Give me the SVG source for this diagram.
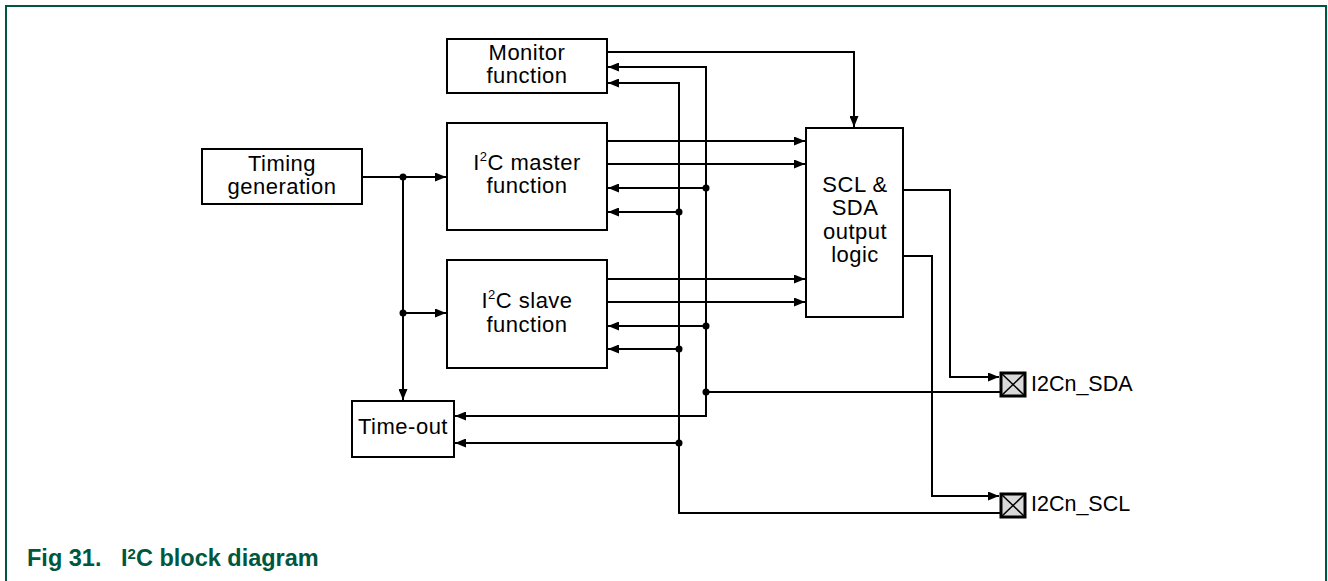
<svg xmlns="http://www.w3.org/2000/svg" width="1328" height="581" viewBox="0 0 1328 581">
<style>
.box{fill:#fff;stroke:#000;stroke-width:2}
.t{font-family:"Liberation Sans",Arial,sans-serif;font-size:22px;letter-spacing:0.5px;fill:#000;text-anchor:middle}
.tl{font-family:"Liberation Sans",Arial,sans-serif;font-size:21.5px;fill:#000}
.a{fill:none;stroke:#000;stroke-width:2;marker-end:url(#arr)}
.dot{fill:#000}
.pad{fill:#d9d9d9;stroke:#000;stroke-width:3}
.x{stroke:#000;stroke-width:1.5}
.cap{font-family:"Liberation Sans",Arial,sans-serif;font-size:23.5px;font-weight:bold;fill:#00573f}
</style>
<defs>
<marker id="arr" markerUnits="userSpaceOnUse" markerWidth="11" markerHeight="9" refX="11" refY="4.5" orient="auto" viewBox="0 0 11 9">
<path d="M0,0 L11,4.5 L0,9 z" fill="#000"/>
</marker>
</defs>
<path d="M6,581 V6 H1326 V581" fill="none" stroke="#00573f" stroke-width="2"/>
<g id="connectors">
<path class="a" d="M607,52 H854 V127"/>
<path class="a" d="M1000,392 H706 V67 H608"/>
<path class="a" d="M706,392 V416 H455"/>
<path class="a" d="M706,188 H608"/>
<path class="a" d="M706,326 H608"/>
<path class="a" d="M1000,513 H679 V83 H608"/>
<path class="a" d="M679,212 H608"/>
<path class="a" d="M679,349 H608"/>
<path class="a" d="M679,443 H455"/>
<path class="a" d="M607,141 H805"/>
<path class="a" d="M607,164 H805"/>
<path class="a" d="M607,279 H805"/>
<path class="a" d="M607,302 H805"/>
<path class="a" d="M362,177 H446"/>
<path class="a" d="M403,177 V400"/>
<path class="a" d="M403,313 H446"/>
<path class="a" d="M903,190 H950 V377 H999"/>
<path class="a" d="M903,256 H932 V496 H999"/>
<circle class="dot" cx="403" cy="177" r="3.5"/>
<circle class="dot" cx="403" cy="313" r="3.5"/>
<circle class="dot" cx="706" cy="188" r="3.5"/>
<circle class="dot" cx="706" cy="326" r="3.5"/>
<circle class="dot" cx="706" cy="392" r="3.5"/>
<circle class="dot" cx="679" cy="212" r="3.5"/>
<circle class="dot" cx="679" cy="349" r="3.5"/>
<circle class="dot" cx="679" cy="443" r="3.5"/>
</g>
<g id="timing">
<rect class="box" x="202" y="149" width="160" height="55"/>
<text class="t" x="282" y="171">Timing</text>
<text class="t" x="282" y="194">generation</text>
</g>
<g id="monitor">
<rect class="box" x="447" y="39" width="160" height="54"/>
<text class="t" x="527" y="60">Monitor</text>
<text class="t" x="527" y="83">function</text>
</g>
<g id="master">
<rect class="box" x="447" y="123" width="160" height="107"/>
<text class="t" x="527" y="170">I<tspan font-size="13" dy="-9">2</tspan><tspan dy="9">C master</tspan></text>
<text class="t" x="527" y="193">function</text>
</g>
<g id="slave">
<rect class="box" x="447" y="260" width="160" height="108"/>
<text class="t" x="527" y="308">I<tspan font-size="13" dy="-9">2</tspan><tspan dy="9">C slave</tspan></text>
<text class="t" x="527" y="332">function</text>
</g>
<g id="timeout">
<rect class="box" x="352" y="401" width="102" height="56"/>
<text class="t" x="403" y="434">Time-out</text>
</g>
<g id="scl_sda_logic">
<rect class="box" x="806" y="128" width="97" height="189"/>
<text class="t" x="855" y="192">SCL &amp;</text>
<text class="t" x="855" y="215">SDA</text>
<text class="t" x="855" y="239">output</text>
<text class="t" x="855" y="262">logic</text>
</g>
<g id="pad_sda">
<rect class="pad" x="1001" y="373" width="24" height="23"/>
<line class="x" x1="1001" y1="373" x2="1025" y2="396"/>
<line class="x" x1="1025" y1="373" x2="1001" y2="396"/>
<text class="tl" x="1031" y="391">I2Cn_SDA</text>
</g>
<g id="pad_scl">
<rect class="pad" x="1001" y="494" width="24" height="23"/>
<line class="x" x1="1001" y1="494" x2="1025" y2="517"/>
<line class="x" x1="1025" y1="494" x2="1001" y2="517"/>
<text class="tl" x="1031" y="511">I2Cn_SCL</text>
</g>
<text class="cap" x="27" y="566" xml:space="preserve">Fig 31.   I<tspan font-size="15" dy="-7">2</tspan><tspan dy="7">C block diagram</tspan></text>
</svg>
